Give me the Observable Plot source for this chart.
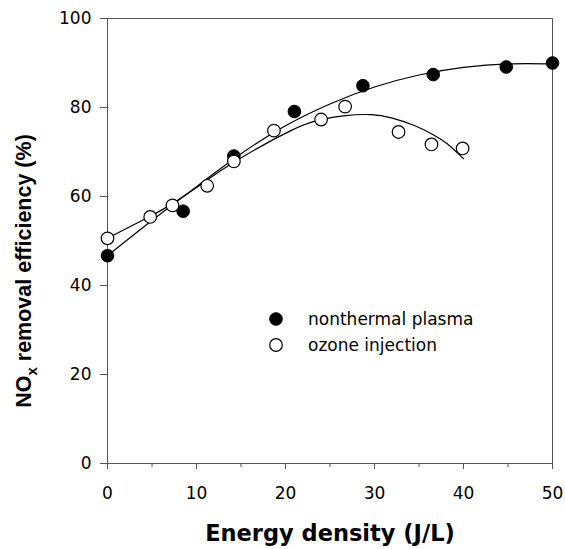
<!DOCTYPE html>
<html><head><meta charset="utf-8">
<script src="https://cdn.jsdelivr.net/npm/d3@7"></script>
<script src="https://cdn.jsdelivr.net/npm/@observablehq/plot@0.6"></script>
<style>body{margin:0;background:#fff} svg{display:block}</style>
</head><body><div id="chart"></div>
<script>
// measured points
const plasmaX = [0, 8.5, 14.2, 21.0, 28.7, 36.6, 44.8, 50];
const plasmaY = [46.7, 56.7, 69.1, 79.1, 84.9, 87.4, 89.1, 90.0];
const ozoneX = [0, 4.8, 7.3, 11.2, 14.2, 18.7, 24.0, 26.7, 32.7, 36.4, 39.9];
const ozoneY = [50.6, 55.4, 58.0, 62.4, 67.9, 74.8, 77.3, 80.2, 74.5, 71.7, 70.8];
// fitted curves
const plasmaFitX = [0, 5, 10, 15, 20, 25, 30, 35, 40, 45, 50];
const plasmaFitY = [46.7, 54.6, 62.2, 69.6, 75.9, 80.8, 84.6, 87.3, 89.0, 89.8, 89.8];
const ozoneFitX = [0, 4.75, 7.3, 10, 14.2, 20.6, 23.9, 26.5, 29.6, 32, 34.4, 36.5, 38.2, 40];
const ozoneFitY = [50.6, 55.5, 58.4, 62.0, 67.7, 74.8, 77.2, 78.1, 78.4, 77.6, 76.0, 74.0, 71.8, 68.5];
// ticks
const xTicks = [0, 10, 20, 30, 40, 50];
const xMinorTicks = [5, 15, 25, 35, 45];
const yTicks = [0, 20, 40, 60, 80, 100];
const seriesNames = ["nonthermal plasma", "ozone injection"];
const xLabel = "Energy density (J/L)";

const zip = (xs, ys) => xs.map((x, i) => ({x, y: ys[i]}));
const plasma = zip(plasmaX, plasmaY);
const ozone = zip(ozoneX, ozoneY);
const plasmaFit = zip(plasmaFitX, plasmaFitY);
const ozoneFit = zip(ozoneFitX, ozoneFitY);

const chart = Plot.plot({
  width: 565, height: 549,
  marginLeft: 107, marginRight: 13, marginTop: 18, marginBottom: 86,
  x: {domain: [0, 50]},
  y: {domain: [0, 100]},
  style: {fontFamily: "DejaVu Sans", fontSize: "17px", color: "#000", background: "#fff", overflow: "visible"},
  marks: [
    Plot.frame({stroke: "#555", strokeWidth: 1}),
    Plot.axisY({ticks: yTicks, tickSize: 7, tickPadding: 9, stroke: "#555", fill: "#000", label: null, fontSize: 17}),
    Plot.axisX({ticks: xTicks, tickSize: 6, tickPadding: 17, stroke: "#555", fill: "#000", label: null, fontSize: 17}),
    Plot.axisX({ticks: xMinorTicks, tickSize: 4, tickFormat: () => "", stroke: "#555", label: null}),
    Plot.line(plasmaFit, {x: "x", y: "y", curve: "natural", stroke: "#000", strokeWidth: 1.2}),
    Plot.line(ozoneFit, {x: "x", y: "y", curve: "natural", stroke: "#000", strokeWidth: 1.2}),
    Plot.dot(plasma, {x: "x", y: "y", r: 6.3, fill: "#000", stroke: "#000", strokeWidth: 1}),
    Plot.dot(ozone, {x: "x", y: "y", r: 6.3, fill: "#fff", stroke: "#000", strokeWidth: 1.2})
  ]
});

const svg = d3.select(chart);
// x label
svg.append("text")
  .attr("x", 330).attr("y", 541)
  .attr("text-anchor", "middle")
  .attr("font-family", "DejaVu Sans").attr("font-weight", "bold").attr("font-size", 22.5)
  .attr("fill", "#000")
  .text(xLabel);
// y label with subscript
const yl = svg.append("text")
  .attr("transform", "translate(31,271) rotate(-90)")
  .attr("text-anchor", "middle")
  .attr("font-family", "Liberation Sans").attr("font-weight", "bold").attr("font-size", 21.5)
  .attr("fill", "#000");
yl.append("tspan").text("NO");
yl.append("tspan").attr("font-size", 15).attr("dy", 6).text("x");
yl.append("tspan").attr("dy", -6).text(" removal efficiency (%)");
// legend
const lg = svg.append("g").attr("font-family", "DejaVu Sans").attr("font-size", 17).attr("text-anchor", "start");
seriesNames.forEach((name, i) => {
  const cy = 319 + i * 26;
  lg.append("circle").attr("cx", 276).attr("cy", cy).attr("r", 6.3)
    .attr("fill", i === 0 ? "#000" : "#fff").attr("stroke", "#000").attr("stroke-width", i === 0 ? 1 : 1.2);
  lg.append("text").attr("x", 308).attr("y", cy).attr("dy", "0.36em").attr("fill", "#000").text(name);
});

document.getElementById("chart").append(chart);
</script>
</body></html>
